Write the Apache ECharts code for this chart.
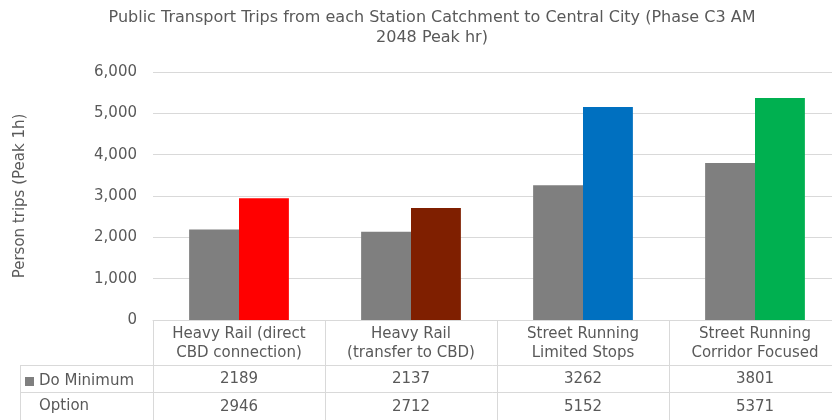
<!DOCTYPE html>
<html>
<head>
<meta charset="utf-8">
<script src="https://cdn.jsdelivr.net/npm/echarts@6/dist/echarts.min.js"></script>
<style>html,body{margin:0;padding:0;background:#fff}#c{width:832px;height:420px}</style>
</head>
<body>
<div id="c"></div>
<script>
var categories = ['Heavy Rail (direct\nCBD connection)', 'Heavy Rail\n(transfer to CBD)', 'Street Running\nLimited Stops', 'Street Running\nCorridor Focused'];
var doMinimum = [2189, 2137, 3262, 3801];
var option = [2946, 2712, 5152, 5371];
var optionColors = ['#ff0000', '#7f1f00', '#0070c0', '#00b050'];
var doMinColor = '#7f7f7f';
var yTicks = [0, 1000, 2000, 3000, 4000, 5000, 6000];

var FONT = '"DejaVu Sans", sans-serif';
var FS = 15;
var TXT = '#595959';
var LINE = '#d9d9d9';

var chart = echarts.init(document.getElementById('c'), null, {renderer: 'canvas'});
chart.setOption({
  backgroundColor: '#fff',
  animation: false,
  title: {
    text: 'Public Transport Trips from each Station Catchment to Central City (Phase C3 AM\n2048 Peak hr)',
    left: 427, top: 3, textAlign: 'center',
    textStyle: {fontFamily: FONT, fontSize: 16, fontWeight: 'normal', color: TXT, lineHeight: 20}
  },
  legend: {
    orient: 'horizontal', left: 20, top: 369, itemWidth: 9, itemHeight: 9,
    selectedMode: false,
    textStyle: {fontFamily: FONT, fontSize: FS, color: TXT, padding: [0, 0, 0, 0]},
    data: [{name: 'Do Minimum', icon: 'rect'}]
  },
  grid: {left: 153, width: 688, top: 72, bottom: 100, containLabel: false, outerBoundsMode: 'none'},
  xAxis: [
    {
      type: 'category', data: categories, position: 'bottom',
      axisLine: {show: true, lineStyle: {color: LINE}},
      axisTick: {show: true, length: 100, lineStyle: {color: LINE}},
      axisLabel: {fontFamily: FONT, fontSize: FS, color: TXT, lineHeight: 19, margin: 5, interval: 0}
    },
    {
      type: 'category', data: categories, position: 'bottom', offset: 45,
      axisLine: {show: true, lineStyle: {color: LINE}},
      axisTick: {show: false},
      axisLabel: {fontFamily: FONT, fontSize: FS, color: TXT, margin: 7, interval: 0,
        formatter: function (v, i) { return String(doMinimum[i]); }}
    },
    {
      type: 'category', data: categories, position: 'bottom', offset: 72,
      axisLine: {show: true, lineStyle: {color: LINE}},
      axisTick: {show: false},
      axisLabel: {fontFamily: FONT, fontSize: FS, color: TXT, margin: 8, interval: 0,
        formatter: function (v, i) { return String(option[i]); }}
    }
  ],
  yAxis: {
    type: 'value', min: yTicks[0], max: yTicks[yTicks.length - 1], interval: 1000,
    name: 'Person trips (Peak 1h)', nameLocation: 'middle', nameGap: 125, nameRotate: 90,
    nameTextStyle: {fontFamily: FONT, fontSize: FS, color: TXT},
    axisLine: {show: false}, axisTick: {show: false},
    axisLabel: {fontFamily: FONT, fontSize: FS, color: TXT, margin: 16,
      formatter: function (v) { return v.toLocaleString('en-US'); }},
    splitLine: {lineStyle: {color: LINE}}
  },
  series: [
    {name: 'Do Minimum', type: 'bar', xAxisIndex: 0, data: doMinimum,
     itemStyle: {color: doMinColor}, barGap: '0%', barCategoryGap: '42%'},
    {name: 'Option', type: 'bar', xAxisIndex: 0,
     data: option.map(function (v, i) { return {value: v, itemStyle: {color: optionColors[i]}}; }),
     itemStyle: {color: optionColors[0]}, barGap: '0%', barCategoryGap: '42%'}
  ],
  graphic: [
    {type: 'text', left: 39, top: 399, style: {text: 'Option', fontFamily: FONT, fontSize: FS, fill: TXT}},
    {type: 'line', shape: {x1: 20, y1: 365.5, x2: 153, y2: 365.5}, style: {stroke: LINE, lineWidth: 1}},
    {type: 'line', shape: {x1: 20, y1: 392.5, x2: 153, y2: 392.5}, style: {stroke: LINE, lineWidth: 1}},
    {type: 'line', shape: {x1: 20.5, y1: 365, x2: 20.5, y2: 420}, style: {stroke: LINE, lineWidth: 1}}
  ]
});
</script>
</body>
</html>
